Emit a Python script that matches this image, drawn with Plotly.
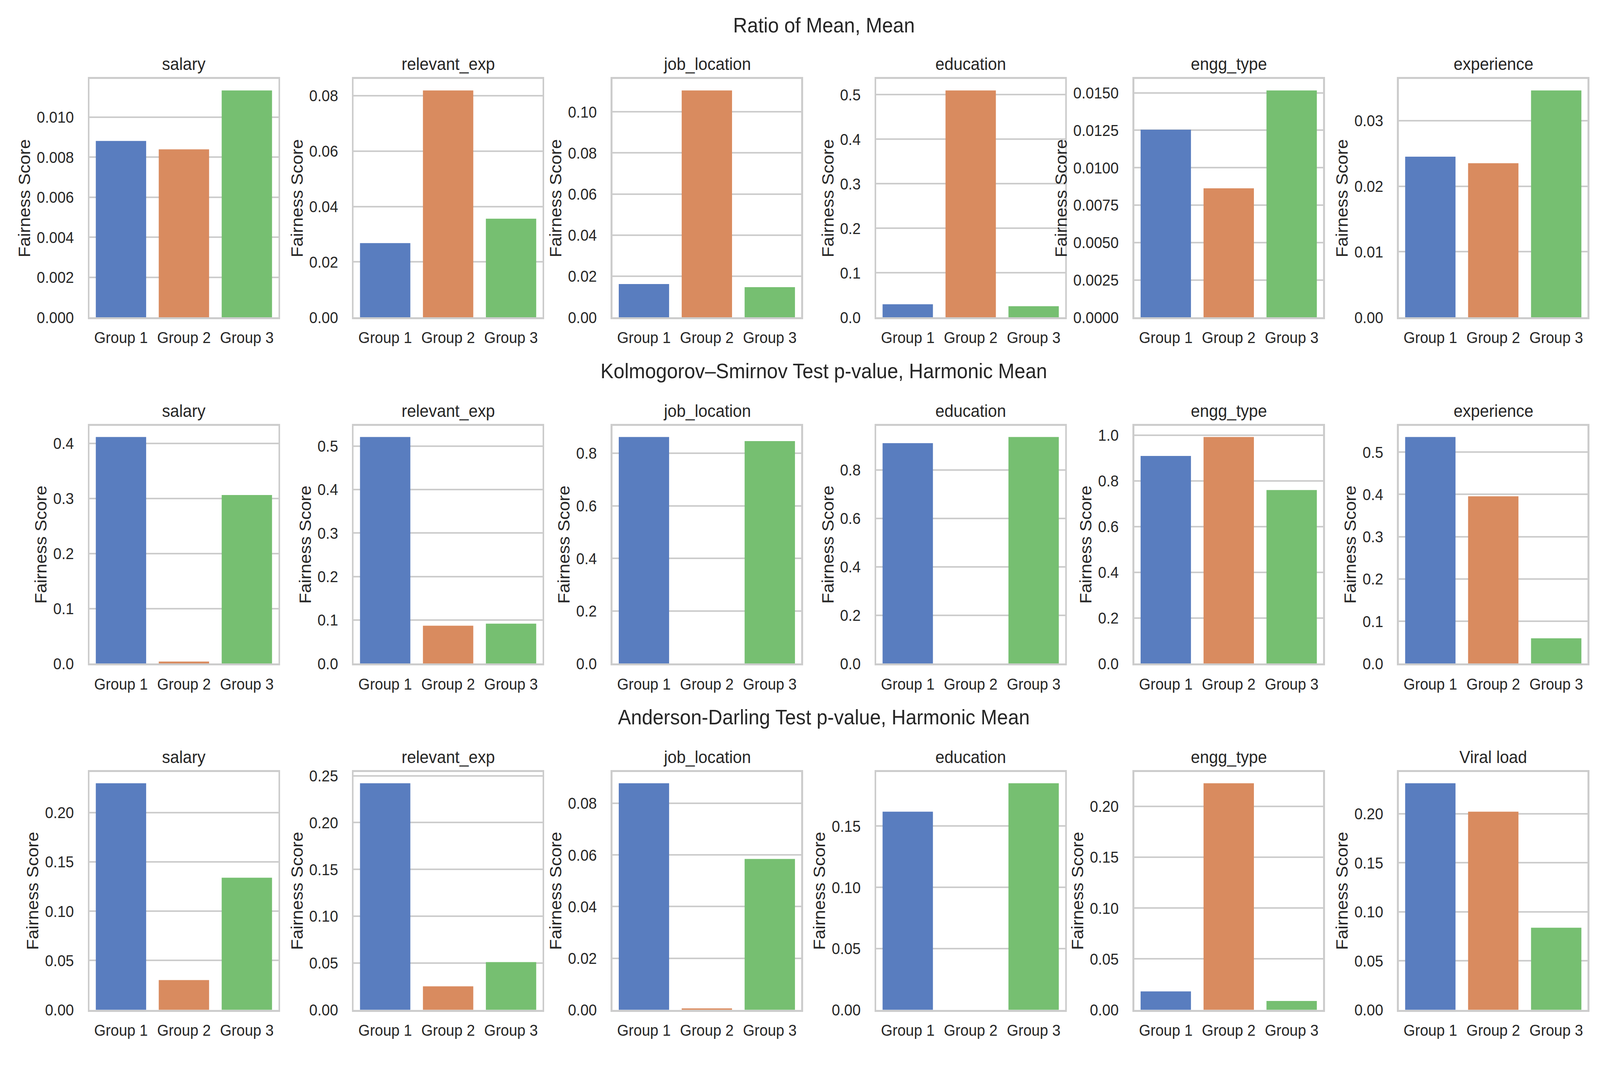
import plotly.graph_objects as go
from plotly.subplots import make_subplots

groups = ["Group 1", "Group 2", "Group 3"]

# Ratio of Mean, Mean
ratio_features = ["salary", "relevant_exp", "job_location", "education", "engg_type", "experience"]
ratio_values = [
    [0.00881, 0.00839, 0.01133],
    [0.0268, 0.0819, 0.0356],
    [0.0162, 0.1104, 0.0147],
    [0.0294, 0.5096, 0.0251],
    [0.01254, 0.00862, 0.01516],
    [0.0245, 0.0235, 0.0346],
]

# Kolmogorov-Smirnov p-value, Harmonic Mean
ks_features = ["salary", "relevant_exp", "job_location", "education", "engg_type", "experience"]
ks_values = [
    [0.4115, 0.0037, 0.3062],
    [0.5207, 0.0870, 0.0917],
    [0.8617, 0.0, 0.8463],
    [0.9108, 0.0, 0.9360],
    [0.9092, 0.9921, 0.7600],
    [0.5357, 0.3955, 0.0597],
]

# Anderson-Darling p-value, Harmonic Mean
ad_features = ["salary", "relevant_exp", "job_location", "education", "engg_type", "Viral load"]
ad_values = [
    [0.2297, 0.0302, 0.1339],
    [0.2420, 0.0251, 0.0510],
    [0.08776, 0.00054, 0.05845],
    [0.1618, 0.0, 0.1850],
    [0.0181, 0.2227, 0.0087],
    [0.2311, 0.2021, 0.0838],
]

row_titles = [
    "Ratio of Mean, Mean",
    "Kolmogorov–Smirnov Test p-value, Harmonic Mean",
    "Anderson-Darling Test p-value, Harmonic Mean",
]

# axis tick styling per panel
ratio_dtick = [0.002, 0.02, 0.02, 0.1, 0.0025, 0.01]
ratio_fmt = [".3f", ".2f", ".2f", ".1f", ".4f", ".2f"]
ks_dtick = [0.1, 0.1, 0.2, 0.2, 0.2, 0.1]
ks_fmt = [".1f"] * 6
ad_dtick = [0.05, 0.05, 0.02, 0.05, 0.05, 0.05]
ad_fmt = [".2f"] * 6

bar_colors = ["#597dbf", "#d98b5f", "#76bf71"]

W, H = 4415, 2731
col_left = [247, 976, 1690, 2418, 3130, 3860]
col_width = 521
row_top = [192, 1091, 1989]
row_bottom = [810, 1708, 2606]
row_title_y = [52, 948, 1846]
title_x = 2273

FONT = "Liberation Sans, Arial, sans-serif"
TXT = "#262626"
GRID = "#cccccc"

features = [ratio_features, ks_features, ad_features]
values = [ratio_values, ks_values, ad_values]
dticks = [ratio_dtick, ks_dtick, ad_dtick]
fmts = [ratio_fmt, ks_fmt, ad_fmt]

fig = make_subplots(rows=3, cols=6)

annotations = []
for r in range(3):
    annotations.append(dict(
        text=row_titles[r], x=title_x / W, y=1 - row_title_y[r] / H,
        xref="paper", yref="paper", xanchor="center", yanchor="middle",
        showarrow=False, font=dict(size=54, color=TXT, family=FONT),
    ))
    for c in range(6):
        vals = values[r][c]
        fig.add_trace(
            go.Bar(x=groups, y=vals, marker=dict(color=bar_colors, line=dict(width=0)),
                   showlegend=False),
            row=r + 1, col=c + 1,
        )
        x0 = col_left[c] / W
        x1 = (col_left[c] + col_width) / W
        y0 = 1 - row_bottom[r] / H
        y1 = 1 - row_top[r] / H
        fig.update_xaxes(
            domain=[x0, x1], range=[-0.5, 2.5], showgrid=False,
            showline=True, mirror=True, linecolor=GRID, linewidth=4.7,
            ticks="", ticklabelstandoff=12,
            tickfont=dict(size=41, color=TXT, family=FONT),
            row=r + 1, col=c + 1,
        )
        fig.update_yaxes(
            domain=[y0, y1], range=[0, max(vals) * 1.05],
            dtick=dticks[r][c], tick0=0, tickformat=fmts[r][c],
            showgrid=True, gridcolor=GRID, gridwidth=3.7, zeroline=False,
            showline=True, mirror=True, linecolor=GRID, linewidth=4.7,
            ticks="", ticklabelstandoff=30,
            tickfont=dict(size=41, color=TXT, family=FONT),
            title=dict(text="Fairness Score", standoff=5,
                       font=dict(size=45, color=TXT, family=FONT)),
            row=r + 1, col=c + 1,
        )
        annotations.append(dict(
            text=features[r][c], x=(x0 + x1) / 2, y=1 - (row_top[r] - 39) / H,
            xref="paper", yref="paper", xanchor="center", yanchor="middle",
            showarrow=False, font=dict(size=45, color=TXT, family=FONT),
        ))

fig.update_layout(
    width=W, height=H,
    margin=dict(l=0, r=0, t=0, b=0),
    paper_bgcolor="white", plot_bgcolor="white",
    bargap=0.2,
    annotations=annotations,
    font=dict(family=FONT, color=TXT),
)

# stretch the fixed-size figure over the whole viewport the page gets
fit_page = (
    "var gd = document.getElementById('{plot_id}');"
    "document.body.style.margin = '0';"
    "document.body.style.overflow = 'hidden';"
    "var sx = window.innerWidth / %d, sy = window.innerHeight / %d;"
    "gd.style.transformOrigin = '0 0';"
    "gd.style.transform = 'scale(' + sx + ',' + sy + ')';" % (W, H)
)

fig.write_html("out.html", post_script=fit_page, config={"displayModeBar": False})
